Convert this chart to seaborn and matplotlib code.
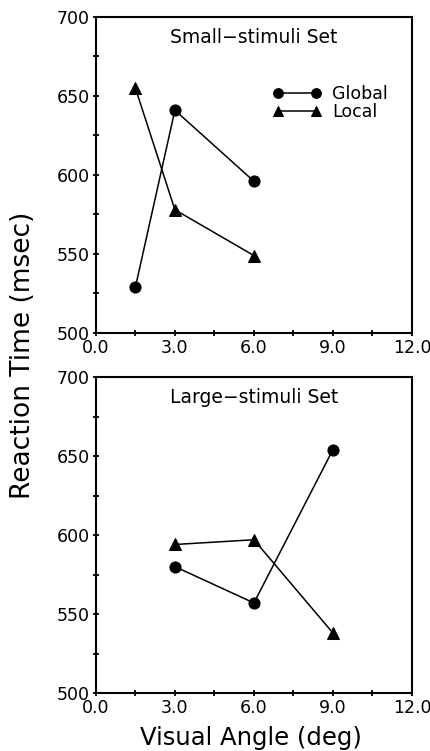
import matplotlib
matplotlib.use("Agg")
import matplotlib.pyplot as plt
import seaborn as sns
import pandas as pd
from matplotlib.ticker import MultipleLocator

sns.set_theme(style="ticks", rc={"text.color": "black", "axes.labelcolor": "black",
                                 "xtick.color": "black", "ytick.color": "black"})
plt.rcParams["font.family"] = ["DejaVu Sans"]

# --- data ---
small_angle = [1.5, 3.0, 6.0]
small_global = [529, 641, 596]
small_local = [655, 578, 549]

large_angle = [3.0, 6.0, 9.0]
large_global = [580, 557, 654]
large_local = [594, 597, 538]

x_ticks = [0.0, 3.0, 6.0, 9.0, 12.0]
y_ticks = [500, 550, 600, 650, 700]


def long_form(angle, glob, loc):
    return pd.DataFrame({
        "angle": angle * 2,
        "rt": glob + loc,
        "cond": ["Global"] * len(glob) + ["Local"] * len(loc),
    })


fig = plt.figure(figsize=(4.3, 7.51), dpi=100)
ax1 = fig.add_axes([0.223, 0.5566, 0.735, 0.4208])
ax2 = fig.add_axes([0.223, 0.0772, 0.735, 0.4208])

panels = [
    (ax1, long_form(small_angle, small_global, small_local), "Small\u2212stimuli Set"),
    (ax2, long_form(large_angle, large_global, large_local), "Large\u2212stimuli Set"),
]

for ax, df, title in panels:
    sns.lineplot(data=df, x="angle", y="rt", style="cond",
                 markers={"Global": "o", "Local": "^"}, dashes=False,
                 color="black", linewidth=1.1, markersize=8,
                 markeredgecolor="black", ax=ax, legend=(ax is ax1))
    ax.set_xlim(0, 12)
    ax.set_ylim(500, 700)
    ax.set_xticks(x_ticks)
    ax.set_xticklabels([f"{t:.1f}" for t in x_ticks])
    ax.set_yticks(y_ticks)
    ax.xaxis.set_minor_locator(MultipleLocator(1.5))
    ax.yaxis.set_minor_locator(MultipleLocator(25))
    ax.tick_params(which="both", direction="inout", length=5, width=1.3,
                   colors="black", labelsize=12.5, pad=2)
    for s in ax.spines.values():
        s.set_linewidth(1.5)
        s.set_color("black")
    ax.set_xlabel("")
    ax.set_ylabel("")
    ax.text(0.5, 0.935, title, transform=ax.transAxes, ha="center",
            va="center", fontsize=13.5)

leg = ax1.legend(loc="upper left", bbox_to_anchor=(0.56, 0.786), frameon=False,
                 numpoints=2, handlelength=2.8, fontsize=12.5,
                 labelspacing=0.05, handletextpad=0.6, borderpad=0,
                 borderaxespad=0)
for h in leg.legend_handles:
    h.set_markersize(7)

fig.text(0.054, 0.527, "Reaction Time (msec)", rotation=90, ha="center",
         va="center", fontsize=19)
fig.text(0.584, 0.017, "Visual Angle (deg)", ha="center", va="center",
         fontsize=17.5)

fig.savefig("out.png", dpi=100, facecolor="white")
